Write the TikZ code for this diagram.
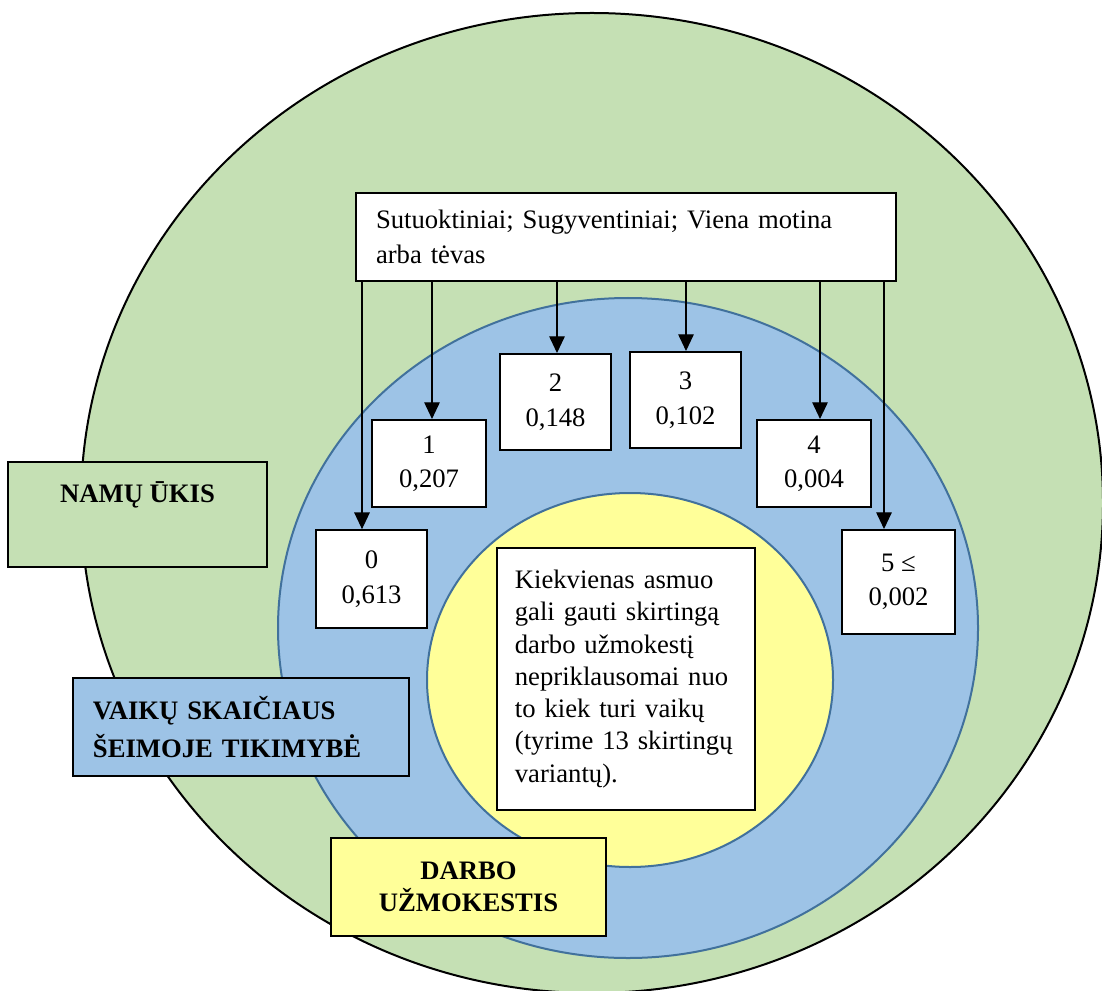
\documentclass[tikz,border=0pt]{standalone}
\usepackage{fontspec}
\setmainfont{Liberation Serif}
\usetikzlibrary{arrows.meta,calc}
\definecolor{namugreen}{HTML}{C5E0B4}
\definecolor{vaikblue}{HTML}{9DC3E6}
\definecolor{darbyellow}{HTML}{FFFF99}
\definecolor{rimblue}{HTML}{41719C}
\tikzset{
  valbox/.style={draw,fill=white,line width=0.9pt,align=center,inner sep=0pt,
    font=\fontsize{12}{15.5}\selectfont},
  tagbox/.style={draw,line width=0.7pt,inner sep=0pt,font=\fontsize{12}{14.4}\selectfont\bfseries},
  arr/.style={-{Triangle[length=7.5pt,width=7pt]},line width=0.5pt}
}
\begin{document}
\begin{tikzpicture}[x=0.45pt,y=-0.45pt]
  \useasboundingbox (0,0) rectangle (1102,990);
  % rings
  \draw[fill=namugreen,line width=0.9pt](592,503) ellipse[x radius=511,y radius=490];
  \draw[fill=vaikblue,draw=rimblue,line width=0.9pt](628,628) ellipse[x radius=350,y radius=330];
  \draw[fill=darbyellow,draw=rimblue,line width=0.9pt](630,680) ellipse[x radius=203,y radius=187];
  % family box
  \node[valbox,align=left,text width=225pt,inner xsep=9pt,minimum height=39.6pt] (fam) at (626,237)
    {Sutuoktiniai; Sugyventiniai; Viena motina\\arba tėvas};
  % number of children
  \node[valbox,minimum width=50pt,minimum height=44pt] (b0) at (371.5,579){0\\0,613};
  \node[valbox,minimum width=51.3pt,minimum height=39.2pt] (b1) at (429,463.5){1\\0,207};
  \node[valbox,minimum width=50pt,minimum height=43.2pt] (b2) at (555.5,402){2\\0,148};
  \node[valbox,minimum width=50pt,minimum height=43.2pt] (b3) at (685.5,400){3\\0,102};
  \node[valbox,minimum width=51.3pt,minimum height=39.2pt] (b4) at (814,463.5){4\\0,004};
  \node[valbox,minimum width=50.9pt,minimum height=46.8pt] (b5) at (898.5,582){5 ≤\\0,002};
  \foreach \b/\dx in {b0/-9.5,b1/3,b2/1.5,b3/0.5,b4/6,b5/-14.5}{
    \coordinate (e\b) at ($(\b.north)+(\dx,0)$);
    \draw[arr](e\b |- fam.south)--(e\b);
  }
  % wage box
  \node[valbox,align=left,text width=100pt,inner xsep=8pt,minimum height=117.9pt,
    font=\fontsize{12}{14.5}\selectfont] (wage) at (626,679)
    {Kiekvienas asmuo\\gali gauti skirtingą\\darbo užmokestį\\nepriklausomai nuo\\to kiek turi vaikų\\(tyrime 13 skirtingų\\variantų).};
  % ring labels
  \node[tagbox,fill=namugreen,align=center,minimum width=116.6pt,minimum height=47.25pt] (namu) at (137.5,514.5)
    {NAMŲ ŪKIS\\[6pt]\mbox{}};
  \node[tagbox,fill=vaikblue,align=left,text width=133.2pt,inner xsep=9pt,minimum height=44.1pt,
    font=\fontsize{12}{17.5}\selectfont\bfseries] (vaik) at (241,727)
    {VAIKŲ SKAIČIAUS\\ŠEIMOJE TIKIMYBĖ};
  \node[tagbox,fill=darbyellow,align=center,line width=1.3pt,minimum width=123.75pt,minimum height=44.1pt] (darb) at (468.5,887)
    {DARBO\\UŽMOKESTIS};
\end{tikzpicture}
\end{document}
